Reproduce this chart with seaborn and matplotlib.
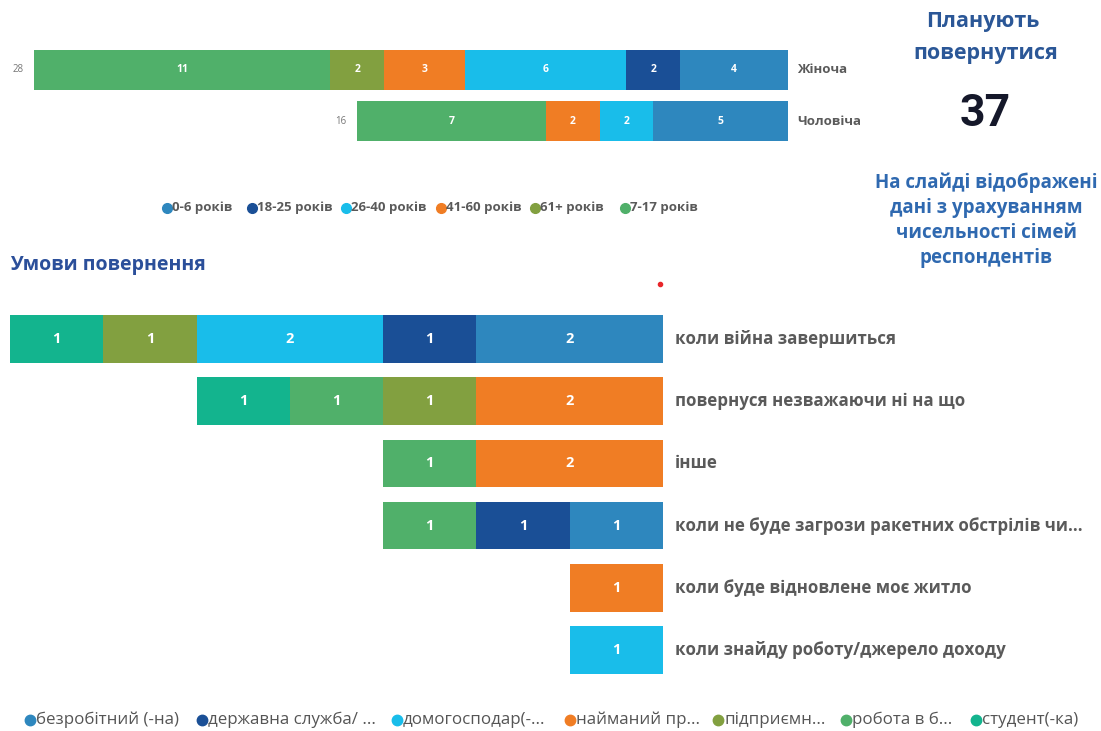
import numpy as np
import pandas as pd
import matplotlib.pyplot as plt
from matplotlib.lines import Line2D
import seaborn as sns

sns.set_style("white")
plt.rcParams["font.family"] = ["Open Sans", "DejaVu Sans"]

# top chart: age groups by gender
age_groups = ["0-6 років", "18-25 років", "26-40 років", "41-60 років", "61+ років", "7-17 років"]
genders = ["Жіноча", "Чоловіча"]
age_female = [4, 2, 6, 3, 2, 11]
age_male = [5, 0, 2, 2, 0, 7]

# bottom chart: return conditions by occupation
occupations = ["безробітний (-на)", "державна служба/ ...", "домогосподар(-...",
               "найманий пр...", "підприємн...", "робота в б...", "студент(-ка)"]
conditions = ["коли війна завершиться", "повернуся незважаючи ні на що", "інше",
              "коли не буде загрози ракетних обстрілів чи...",
              "коли буде відновлене моє житло", "коли знайду роботу/джерело доходу"]
cond_unemployed = [2, 0, 0, 1, 0, 0]
cond_civil = [1, 0, 0, 1, 0, 0]
cond_household = [2, 0, 0, 0, 0, 1]
cond_hired = [0, 2, 2, 0, 1, 0]
cond_business = [1, 1, 0, 0, 0, 0]
cond_abroad = [0, 1, 1, 1, 0, 0]
cond_student = [1, 1, 0, 0, 0, 0]

plan_return = 37

age_colors = ["#2E87BE", "#1A4F96", "#19BDEA", "#F07D24", "#82A040", "#50B06A"]
occ_colors = ["#2E87BE", "#1A4F96", "#19BDEA", "#F07D24", "#82A040", "#50B06A", "#13B48E"]
label_gray = "#5a5a5a"
blue_txt = "#2B5797"

W, H = 1101, 731
fig = plt.figure(figsize=(W / 100, H / 100), dpi=100)


def fx(px):
    return px / W


def fy(py):
    return 1 - py / H


def stacked(ax, df, cats, series, colors, height, fs_num):
    # draw cumulative bars from the widest down so segments stack from the right
    cum = df[series].cumsum(axis=1)
    for s, c in reversed(list(zip(series, colors))):
        sns.barplot(x=cum[s].values, y=cats, orient="h", color=c, width=height,
                    ax=ax, saturation=1, linewidth=0)
    for i in range(len(df)):
        start = 0
        for s in series:
            v = df[s].iloc[i]
            if v > 0:
                ax.text(start + v / 2, i, str(v), ha="center", va="center",
                        color="white", fontsize=fs_num, fontweight="bold")
            start += v
    return cum


# top chart
age_df = pd.DataFrame([age_female, age_male], columns=age_groups)
ax1 = fig.add_axes([fx(34), fy(141), fx(788) - fx(34), fy(50) - fy(141)])
stacked(ax1, age_df, genders, age_groups, age_colors, 0.78, 7.5)
ax1.set_xlim(28, 0)
ax1.set_ylim(1.39, -0.39)
ax1.axis("off")
for i, g in enumerate(genders):
    total = age_df.iloc[i].sum()
    ax1.text(-0.35, i, g, ha="left", va="center", fontsize=9.5,
             fontweight="bold", color=label_gray)
    ax1.text(total + 0.4, i, str(total), ha="right", va="center", fontsize=7,
             color="#777777")

# top legend
top_leg_x = [167, 252, 346, 441, 535, 625]
for x, lab, c in zip(top_leg_x, age_groups, age_colors):
    fig.add_artist(Line2D([fx(x)], [fy(208)], marker="o", ms=7, color=c,
                          transform=fig.transFigure))
    fig.text(fx(x + 5), fy(208), lab, ha="left", va="center", fontsize=9.5,
             fontweight="bold", color=label_gray)

# right panel
fig.text(fx(983), fy(22), "Планують", ha="center", va="center", fontsize=15.5,
         fontweight="bold", color=blue_txt)
fig.text(fx(986), fy(53), "повернутися", ha="center", va="center", fontsize=15.5,
         fontweight="bold", color=blue_txt)
fig.text(fx(985), fy(114), str(plan_return), ha="center", va="center", fontsize=32,
         fontweight="bold", color="#15182a", family=["Roboto", "DejaVu Sans"])
for y, line in zip([183, 208, 233, 258],
                   ["На слайді відображені", "дані з урахуванням",
                    "чисельності сімей", "респондентів"]):
    fig.text(fx(986), fy(y), line, ha="center", va="center", fontsize=13.5,
             fontweight="bold", color="#2F69B0")

fig.text(fx(10), fy(265), "Умови повернення", ha="left", va="center", fontsize=14,
         fontweight="bold", color="#2B4F9A")
fig.add_artist(Line2D([fx(660)], [fy(284)], marker="o", ms=3, color="#e8262a",
                      transform=fig.transFigure))

# bottom chart
cond_df = pd.DataFrame({
    occupations[0]: cond_unemployed,
    occupations[1]: cond_civil,
    occupations[2]: cond_household,
    occupations[3]: cond_hired,
    occupations[4]: cond_business,
    occupations[5]: cond_abroad,
    occupations[6]: cond_student,
})
ax2 = fig.add_axes([fx(10), fy(674), fx(663) - fx(10), fy(315) - fy(674)])
stacked(ax2, cond_df, conditions, occupations, occ_colors, 0.77, 10.5)
ax2.set_xlim(7, 0)
ax2.set_ylim(5.39, -0.39)
ax2.axis("off")
for i, c in enumerate(conditions):
    ax2.text(-0.13, i, c, ha="left", va="center", fontsize=12.2,
             fontweight="bold", color=label_gray)

# bottom legend
bot_leg_x = [30, 202, 397, 570, 718, 846, 976]
for x, lab, c in zip(bot_leg_x, occupations, occ_colors):
    fig.add_artist(Line2D([fx(x)], [fy(720)], marker="o", ms=7.5, color=c,
                          transform=fig.transFigure))
    fig.text(fx(x + 6), fy(720), lab, ha="left", va="center", fontsize=12.2,
             color="#555555")

fig.savefig("out.png", dpi=100, facecolor="white")
